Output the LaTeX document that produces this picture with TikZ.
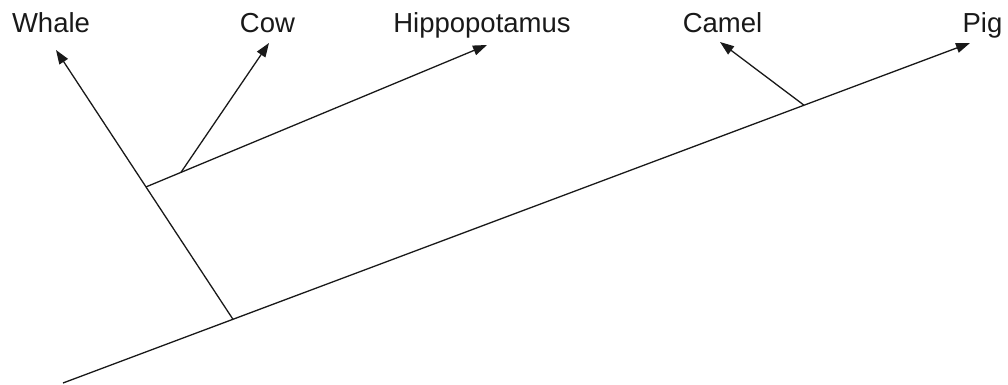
\documentclass[tikz,border=0pt]{standalone}
\usepackage{fontspec}
\setmainfont{Liberation Sans}
\usetikzlibrary{arrows.meta,calc}
\begin{document}
\begin{tikzpicture}[x=1pt,y=-1pt,
  branch/.style={line width=1.3pt,draw=black!90},
  arr/.style={branch,-{Triangle[length=14pt,width=10pt]}},
  taxon/.style={anchor=base,inner sep=0pt,font=\fontsize{27.5}{30}\selectfont,text=black!90}]
\useasboundingbox (0,0) rectangle (1008,385);
% labels
\node[taxon] (whale) at (51,33) {Whale};
\node[taxon] (cow) at (267.5,33) {Cow};
\node[taxon] (hippo) at (482,33) {Hippopotamus};
\node[taxon] (camel) at (722.5,33) {Camel};
\node[taxon] (pig) at (982.5,33) {Pig};
% tips and root
\coordinate (root) at (63,383);
\coordinate (tpig) at (970,43);
\coordinate (twhale) at (56,50);
\coordinate (tcow) at (269,43);
\coordinate (thippo) at (487,45);
\coordinate (tcamel) at (720,42);
% junctions
\coordinate (j0) at ($(root)!0.1874!(tpig)$);
\coordinate (jcamel) at ($(root)!0.817!(tpig)$);
\coordinate (jhippo) at ($(j0)!0.4915!(twhale)$);
\coordinate (jcow) at ($(jhippo)!0.1026!(thippo)$);
% branches
\draw[arr] (root) -- (tpig);
\draw[arr] (j0) -- (twhale);
\draw[arr] (jhippo) -- (thippo);
\draw[arr] (jcow) -- (tcow);
\draw[arr] (jcamel) -- (tcamel);
\end{tikzpicture}
\end{document}
